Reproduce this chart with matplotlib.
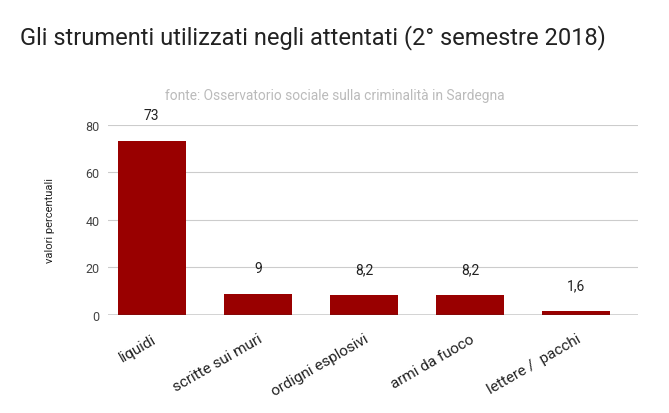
import matplotlib
matplotlib.use("Agg")
import matplotlib.pyplot as plt

categories = ["liquidi", "scritte sui muri", "ordigni esplosivi", "armi da fuoco", "lettere /  pacchi"]
values = [73, 9, 8.2, 8.2, 1.6]
labels = ["73", "9", "8,2", "8,2", "1,6"]
yticks = [0, 20, 40, 60, 80]

plt.rcParams['font.family'] = ['Roboto', 'DejaVu Sans']
fig = plt.figure(figsize=(6.69, 4.14), dpi=100)
ax = fig.add_axes([0.161, 0.237, 0.793, 0.459])
x = list(range(len(categories)))
ax.bar(x, values, width=0.64, color="#990000", zorder=3)
for xi, v, l in zip(x, values, labels):
    ax.text(xi, v + 8, l, ha="center", va="bottom", fontsize=10, color="#222222")
ax.set_xlim(-0.415, 4.585)
ax.set_ylim(0, 80)
ax.set_yticks(yticks)
ax.set_yticklabels([str(t) for t in yticks], fontsize=9, color="#444444")
ax.grid(axis="y", color="#cccccc", linewidth=0.8, zorder=0)
ax.set_xticks(x)
ax.set_xticklabels(categories, rotation=30, ha="right", rotation_mode="anchor", fontsize=11, color="#222222")
ax.tick_params(length=0, pad=6)
ax.tick_params(axis="x", pad=12)
for s in ax.spines.values():
    s.set_visible(False)
ax.axhline(0, color="#333333", linewidth=1, zorder=4)
ax.yaxis.set_label_coords(-0.1, 0.5)
ax.set_ylabel("valori percentuali", fontsize=8, color="#222222")
fig.text(20/669, 1-38/414, "Gli strumenti utilizzati negli attentati (2° semestre 2018)", fontsize=17, va="center", ha="left", color="#222222")
fig.text(335/669, 1-96/414, "fonte: Osservatorio sociale sulla criminalità in Sardegna", fontsize=9.9, ha="center", va="center", color="#bbbbbb")
fig.savefig("out.png", dpi=100)
